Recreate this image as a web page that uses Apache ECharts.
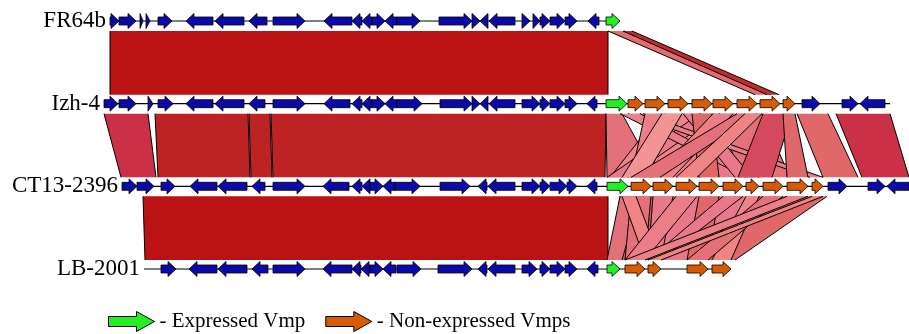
<!DOCTYPE html>
<html>
<head>
<meta charset="utf-8">
<script src="https://cdn.jsdelivr.net/npm/echarts@6/dist/echarts.min.js"></script>
<style>
  html, body { margin: 0; padding: 0; background: #fff; }
  #chart { width: 909px; height: 334px; }
</style>
</head>
<body>
<div id="chart"></div>
<script>
// genomes, top to bottom, with the span of their backbone line
const tracks = ['FR64b', 'Izh-4', 'CT13-2396', 'LB-2001'];
const trackSpan = [[110, 620], [104, 890], [122, 909], [144, 731]];

// genes: [start, end, strand, kind]  kind 0 = other CDS, 1 = expressed Vmp, 2 = non-expressed Vmp
const fr64bGenes = [
  [110, 119, 1, 0], [119, 136, 1, 0], [140, 143, 1, 0], [146, 150, 1, 0], [158, 172, 1, 0],
  [186, 213, -1, 0], [215, 244, -1, 0], [249, 267, -1, 0], [273, 305, 1, 0], [324, 352, -1, 0],
  [352, 362, -1, 0], [362, 372, -1, 0], [372, 385, 1, 0], [385, 397, -1, 0], [397, 420, 1, 0],
  [439, 472, 1, 0], [472, 480, 1, 0], [480, 488, -1, 0], [489, 515, -1, 0], [522, 530, 1, 0],
  [533, 540, 1, 0], [540, 550, 1, 0], [550, 565, 1, 0], [565, 577, 1, 0], [588, 599, -1, 0],
  [606, 620, 1, 1]
];
const izh4Genes = [
  [104, 118, 1, 0], [119, 136, 1, 0], [148, 153, 1, 0], [158, 173, 1, 0], [186, 213, -1, 0],
  [215, 244, -1, 0], [249, 265, -1, 0], [273, 305, 1, 0], [324, 350, -1, 0], [352, 362, -1, 0],
  [362, 372, -1, 0], [372, 385, 1, 0], [385, 397, -1, 0], [397, 422, 1, 0], [440, 472, 1, 0],
  [472, 480, 1, 0], [480, 488, -1, 0], [489, 515, -1, 0], [522, 540, 1, 0], [540, 550, 1, 0],
  [550, 565, 1, 0], [565, 577, 1, 0], [587, 597, -1, 0], [606, 627, 1, 1], [628, 643, 1, 2],
  [645, 665, 1, 2], [668, 688, 1, 2], [692, 712, 1, 2], [713, 733, 1, 2], [737, 757, 1, 2],
  [760, 780, 1, 2], [783, 795, 1, 2], [802, 820, 1, 0], [842, 858, 1, 0], [860, 885, -1, 0]
];
const ct13Genes = [
  [122, 137, 1, 0], [137, 154, 1, 0], [161, 175, 1, 0], [190, 217, -1, 0], [218, 247, -1, 0],
  [252, 265, -1, 0], [273, 305, 1, 0], [323, 349, -1, 0], [352, 362, -1, 0], [362, 370, -1, 0],
  [370, 383, 1, 0], [383, 395, -1, 0], [395, 420, 1, 0], [440, 470, 1, 0], [478, 487, -1, 0],
  [488, 515, -1, 0], [522, 540, 1, 0], [540, 550, 1, 0], [550, 567, 1, 0], [567, 577, 1, 0],
  [587, 597, -1, 0], [607, 628, 1, 1], [631, 651, 1, 2], [653, 673, 1, 2], [676, 697, 1, 2],
  [699, 719, 1, 2], [723, 743, 1, 2], [746, 759, 1, 2], [763, 783, 1, 2], [787, 808, 1, 2],
  [812, 823, 1, 2], [828, 847, 1, 0], [868, 885, 1, 0], [887, 909, -1, 0]
];
const lb2001Genes = [
  [161, 176, 1, 0], [189, 217, -1, 0], [218, 247, -1, 0], [252, 268, -1, 0], [273, 305, 1, 0],
  [323, 352, -1, 0], [352, 361, -1, 0], [361, 370, -1, 0], [370, 383, 1, 0], [383, 396, -1, 0],
  [397, 421, 1, 0], [438, 472, 1, 0], [478, 487, -1, 0], [488, 515, -1, 0], [522, 537, 1, 0],
  [540, 550, 1, 0], [550, 565, 1, 0], [565, 577, 1, 0], [587, 598, -1, 0], [607, 620, 1, 1],
  [625, 645, 1, 2], [648, 661, 1, 2], [687, 708, 1, 2], [712, 731, 1, 2]
];
const trackGenes = [fr64bGenes, izh4Genes, ct13Genes, lb2001Genes];

// blast hits between neighbours: [upperStart, upperEnd, lowerStart, lowerEnd, identity %]
const fr64bIzh4Hits = [
  [110, 608, 110, 608, 100],
  [608, 624, 755, 771, 83],
  [623, 632, 767, 779, 95]
];
const izh4Ct13Hits = [
  [104, 148, 121, 156, 92],
  [155, 248, 158, 250, 97],
  [249, 270, 251, 272, 97],
  [271, 606, 273, 605, 97],
  [606, 622, 607, 657, 82],
  [640, 700, 700, 760, 80],
  [700, 760, 640, 700, 78],
  [660, 720, 610, 650, 76],
  [720, 762, 740, 790, 82],
  [700, 720, 607, 628, 80],
  [628, 643, 810, 823, 78],
  [620, 640, 746, 759, 78],
  [645, 665, 631, 651, 78],
  [662, 682, 622, 645, 74],
  [683, 700, 735, 752, 80],
  [692, 712, 699, 719, 84],
  [713, 733, 653, 673, 78],
  [737, 757, 631, 660, 82],
  [745, 762, 676, 697, 76],
  [763, 792, 738, 772, 89],
  [783, 795, 787, 808, 84],
  [797, 828, 823, 858, 84],
  [836, 890, 862, 909, 92]
];
const ct13Lb2001Hits = [
  [143, 608, 145, 608, 100],
  [620, 690, 612, 665, 86],
  [690, 760, 650, 700, 80],
  [760, 827, 700, 735, 84],
  [620, 640, 607, 622, 82],
  [631, 651, 625, 645, 82],
  [622, 636, 645, 660, 76],
  [653, 673, 648, 661, 80],
  [676, 697, 625, 645, 78],
  [699, 719, 687, 708, 84],
  [723, 743, 648, 661, 80],
  [746, 759, 712, 731, 76],
  [763, 783, 687, 708, 82],
  [787, 808, 625, 645, 78],
  [812, 823, 648, 661, 76]
];
const pairHits = [fr64bIzh4Hits, izh4Ct13Hits, ct13Lb2001Hits];

const kindNames = ['Other CDS', 'Expressed Vmp', 'Non-expressed Vmps'];
const kindColors = ['#0A0AA8', '#22F022', '#D95A05'];
const serif = '"Liberation Serif", "DejaVu Serif", serif';
const arrowIcon = 'path://M0,5L28,5L28,0L46,10L28,20L28,15L0,15Z';

const linkData = [];
pairHits.forEach((hits, t) => hits.forEach((h) => linkData.push([t, ...h])));

const geneData = [[], [], []];
trackGenes.forEach((genes, t) => genes.forEach((g) => geneData[g[3]].push([t, g[0], g[1], g[2]])));

function renderLink(params, api) {
  const t = api.value(0);
  const a = api.coord([api.value(1), t]);
  const b = api.coord([api.value(2), t]);
  const c = api.coord([api.value(3), t + 1]);
  const d = api.coord([api.value(4), t + 1]);
  const y0 = a[1] + 10, y1 = c[1] - 9;
  return {
    type: 'group',
    children: [
      { type: 'polygon', shape: { points: [[a[0], y0], [b[0], y0], [d[0], y1], [c[0], y1]] },
        style: { fill: api.visual('color') } },
      { type: 'line', shape: { x1: a[0], y1: y0, x2: c[0], y2: y1 }, style: { stroke: '#000', lineWidth: 1 } },
      { type: 'line', shape: { x1: b[0], y1: y0, x2: d[0], y2: y1 }, style: { stroke: '#000', lineWidth: 1 } }
    ]
  };
}

function renderBackbone(params, api) {
  const t = api.value(0);
  const p0 = api.coord([api.value(1), t]);
  const p1 = api.coord([api.value(2), t]);
  return { type: 'line', shape: { x1: p0[0], y1: p0[1], x2: p1[0], y2: p1[1] },
    style: { stroke: '#000', lineWidth: 1.2 } };
}

function renderLabel(params, api) {
  const t = api.value(0);
  const p = api.coord([api.value(1), t]);
  return { type: 'text', x: p[0] - 4, y: p[1],
    style: { text: tracks[t], fill: '#000', font: '23px ' + serif, align: 'right', verticalAlign: 'middle' } };
}

function renderGene(params, api) {
  const t = api.value(0), dir = api.value(3);
  const p0 = api.coord([api.value(1), t]);
  const p1 = api.coord([api.value(2), t]);
  const y = p0[1];
  const head = Math.min(8, p1[0] - p0[0]);
  let pts;
  if (dir > 0) {
    const hx = p1[0] - head;
    pts = [[p0[0], y - 4], [hx, y - 4], [hx, y - 7.5], [p1[0], y], [hx, y + 7.5], [hx, y + 4], [p0[0], y + 4]];
  } else {
    const hx = p0[0] + head;
    pts = [[p1[0], y - 4], [hx, y - 4], [hx, y - 7.5], [p0[0], y], [hx, y + 7.5], [hx, y + 4], [p1[0], y + 4]];
  }
  return { type: 'polygon', shape: { points: pts },
    style: { fill: api.visual('color'), stroke: '#000', lineWidth: 0.8 } };
}

const chart = echarts.init(document.getElementById('chart'));
chart.setOption({
  animation: false,
  grid: { left: 0, right: 0, top: 21, bottom: 65 },
  xAxis: { type: 'value', min: 0, max: 909, show: false },
  yAxis: { type: 'value', min: 0, max: 3, inverse: true, show: false },
  visualMap: {
    show: false,
    type: 'continuous',
    seriesIndex: 0,
    dimension: 5,
    min: 72,
    max: 100,
    inRange: { color: ['#F6A4A4', '#F08484', '#E8788A', '#E06868', '#D85264', '#CC3046', '#BE2828', '#BB1314'] }
  },
  legend: {
    left: 108,
    top: 311,
    padding: 0,
    itemWidth: 46,
    itemHeight: 20,
    itemGap: 20,
    selectedMode: false,
    formatter: '- {name}',
    itemStyle: { borderColor: '#000', borderWidth: 1 },
    textStyle: { fontFamily: serif, fontSize: 21, color: '#000' },
    data: [
      { name: kindNames[1], icon: arrowIcon },
      { name: kindNames[2], icon: arrowIcon }
    ]
  },
  series: [
    { type: 'custom', name: 'hits', renderItem: renderLink, data: linkData, silent: true },
    { type: 'custom', name: 'backbone', renderItem: renderBackbone,
      data: trackSpan.map((s, t) => [t, s[0], s[1]]), silent: true },
    { type: 'custom', name: 'labels', renderItem: renderLabel,
      data: trackSpan.map((s, t) => [t, s[0]]), silent: true },
    ...kindNames.map((name, k) => ({
      type: 'custom', name: name, renderItem: renderGene, data: geneData[k],
      itemStyle: { color: kindColors[k] }, silent: true
    }))
  ]
});
</script>
</body>
</html>
